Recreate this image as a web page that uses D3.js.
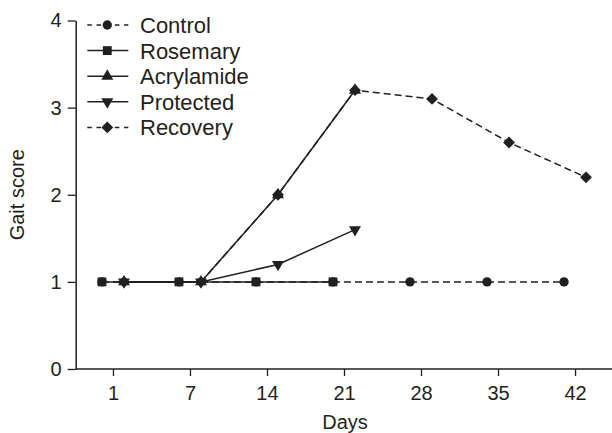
<!DOCTYPE html>
<html>
<head>
<meta charset="utf-8">
<script src="https://cdn.jsdelivr.net/npm/d3@7.9.0/dist/d3.min.js"></script>
<style>
  html, body { margin: 0; padding: 0; background: #fff; }
  svg { display: block; font-family: "Liberation Sans", Arial, sans-serif; }
  .tick text { fill: #231f20; }
</style>
</head>
<body>
<svg id="chart" width="612" height="433"></svg>
<script>
const dayLabels = [1, 7, 14, 21, 28, 35, 42];
const yTicks = [0, 1, 2, 3, 4];

const control = [1, 1, 1, 1, 1, 1, 1];
const rosemary = [1, 1, 1, 1];
const acrylamide = [1, 1, 2, 3.2];
const protectedGroup = [1, 1, 1.2, 1.6];
const recovery = [1, 1, 2, 3.2, 3.1, 2.6, 2.2];

const seriesNames = ['Control', 'Rosemary', 'Acrylamide', 'Protected', 'Recovery'];

const ink = '#231f20';

const svg = d3.select('#chart');

const x = d3.scalePoint().domain(dayLabels).range([76, 612]).padding(0.48);
const y = d3.scaleLinear().domain([0, 4]).range([369, 20.5]);
const dodge = x.step() / 7;

// marker shapes
const diamond = {
  draw(ctx, size) {
    const r = Math.sqrt(size / 2);
    ctx.moveTo(0, -r); ctx.lineTo(r, 0); ctx.lineTo(0, r); ctx.lineTo(-r, 0); ctx.closePath();
  }
};
const downTriangle = {
  draw(ctx, size) {
    const h = Math.sqrt(size / (Math.sqrt(3) / 4)) * Math.sqrt(3) / 2;
    const s = h / Math.sqrt(3);
    ctx.moveTo(0, h * 2 / 3); ctx.lineTo(s, -h / 3); ctx.lineTo(-s, -h / 3); ctx.closePath();
  }
};

const series = [
  { name: seriesNames[0], values: control, shift: -1, dash: '7,4', symbol: d3.symbolCircle, size: 68 },
  { name: seriesNames[1], values: rosemary, shift: -1, dash: null, symbol: d3.symbolSquare, size: 78 },
  { name: seriesNames[2], values: acrylamide, shift: 1, dash: null, symbol: d3.symbolTriangle, size: 62 },
  { name: seriesNames[3], values: protectedGroup, shift: 1, dash: null, symbol: downTriangle, size: 62 },
  { name: seriesNames[4], values: recovery, shift: 1, dash: '7,4', symbol: diamond, size: 70 },
];

// axes
const xAxis = d3.axisBottom(x).tickSize(7).tickPadding(10).tickSizeOuter(0);
const gx = svg.append('g').attr('transform', `translate(0,${y(0)})`).call(xAxis);
gx.select('.domain').remove();
gx.append('line').attr('x1', 75.7).attr('x2', 612).attr('stroke', ink).attr('stroke-width', 1.5);
gx.selectAll('.tick line').attr('stroke', ink).attr('stroke-width', 1.3);
gx.selectAll('.tick text').attr('font-size', 20);

const yAxis = d3.axisLeft(y).tickValues(yTicks).tickFormat(d3.format('d'))
  .tickSize(8).tickPadding(6).tickSizeOuter(0);
const gy = svg.append('g').attr('transform', 'translate(75.7,0)').call(yAxis);
gy.select('.domain').attr('stroke', ink).attr('stroke-width', 1.5);
gy.selectAll('.tick line').attr('stroke', ink).attr('stroke-width', 1.3);
gy.selectAll('.tick text').attr('font-size', 20);

svg.append('text')
  .attr('x', 345).attr('y', 429)
  .attr('text-anchor', 'middle').attr('font-size', 20).attr('fill', ink)
  .text('Days');

svg.append('text')
  .attr('transform', `translate(24,${(y(0) + y(4)) / 2}) rotate(-90)`)
  .attr('text-anchor', 'middle').attr('font-size', 20).attr('fill', ink)
  .text('Gait score');

// lines and markers
const line = d3.line()
  .x((d) => d.px)
  .y((d) => y(d.v));

series.forEach((s) => {
  const pts = s.values.map((v, i) => ({ px: x(dayLabels[i]) + s.shift * dodge, v }));
  svg.append('path')
    .attr('d', line(pts))
    .attr('fill', 'none')
    .attr('stroke', ink)
    .attr('stroke-width', 1.5)
    .attr('stroke-dasharray', s.dash);

  const sym = d3.symbol().type(s.symbol).size(s.size);
  svg.append('g').selectAll('path')
    .data(pts)
    .join('path')
    .attr('transform', (d) => `translate(${d.px},${y(d.v)})`)
    .attr('d', sym())
    .attr('fill', ink);
});

// legend
const legend = svg.append('g');
series.forEach((s, i) => {
  const ly = 25 + i * 25.6;
  legend.append('line')
    .attr('x1', 87.3).attr('x2', 128.3)
    .attr('y1', ly).attr('y2', ly)
    .attr('stroke', ink).attr('stroke-width', 1.5)
    .attr('stroke-dasharray', s.dash ? '4.5,4.7' : null);
  legend.append('path')
    .attr('transform', `translate(107.3,${ly})`)
    .attr('d', d3.symbol().type(s.symbol).size(s.size)())
    .attr('fill', ink);
  legend.append('text')
    .attr('x', 140).attr('y', ly).attr('dy', '0.36em')
    .attr('font-size', 22).attr('fill', ink)
    .text(s.name);
});
</script>
</body>
</html>
